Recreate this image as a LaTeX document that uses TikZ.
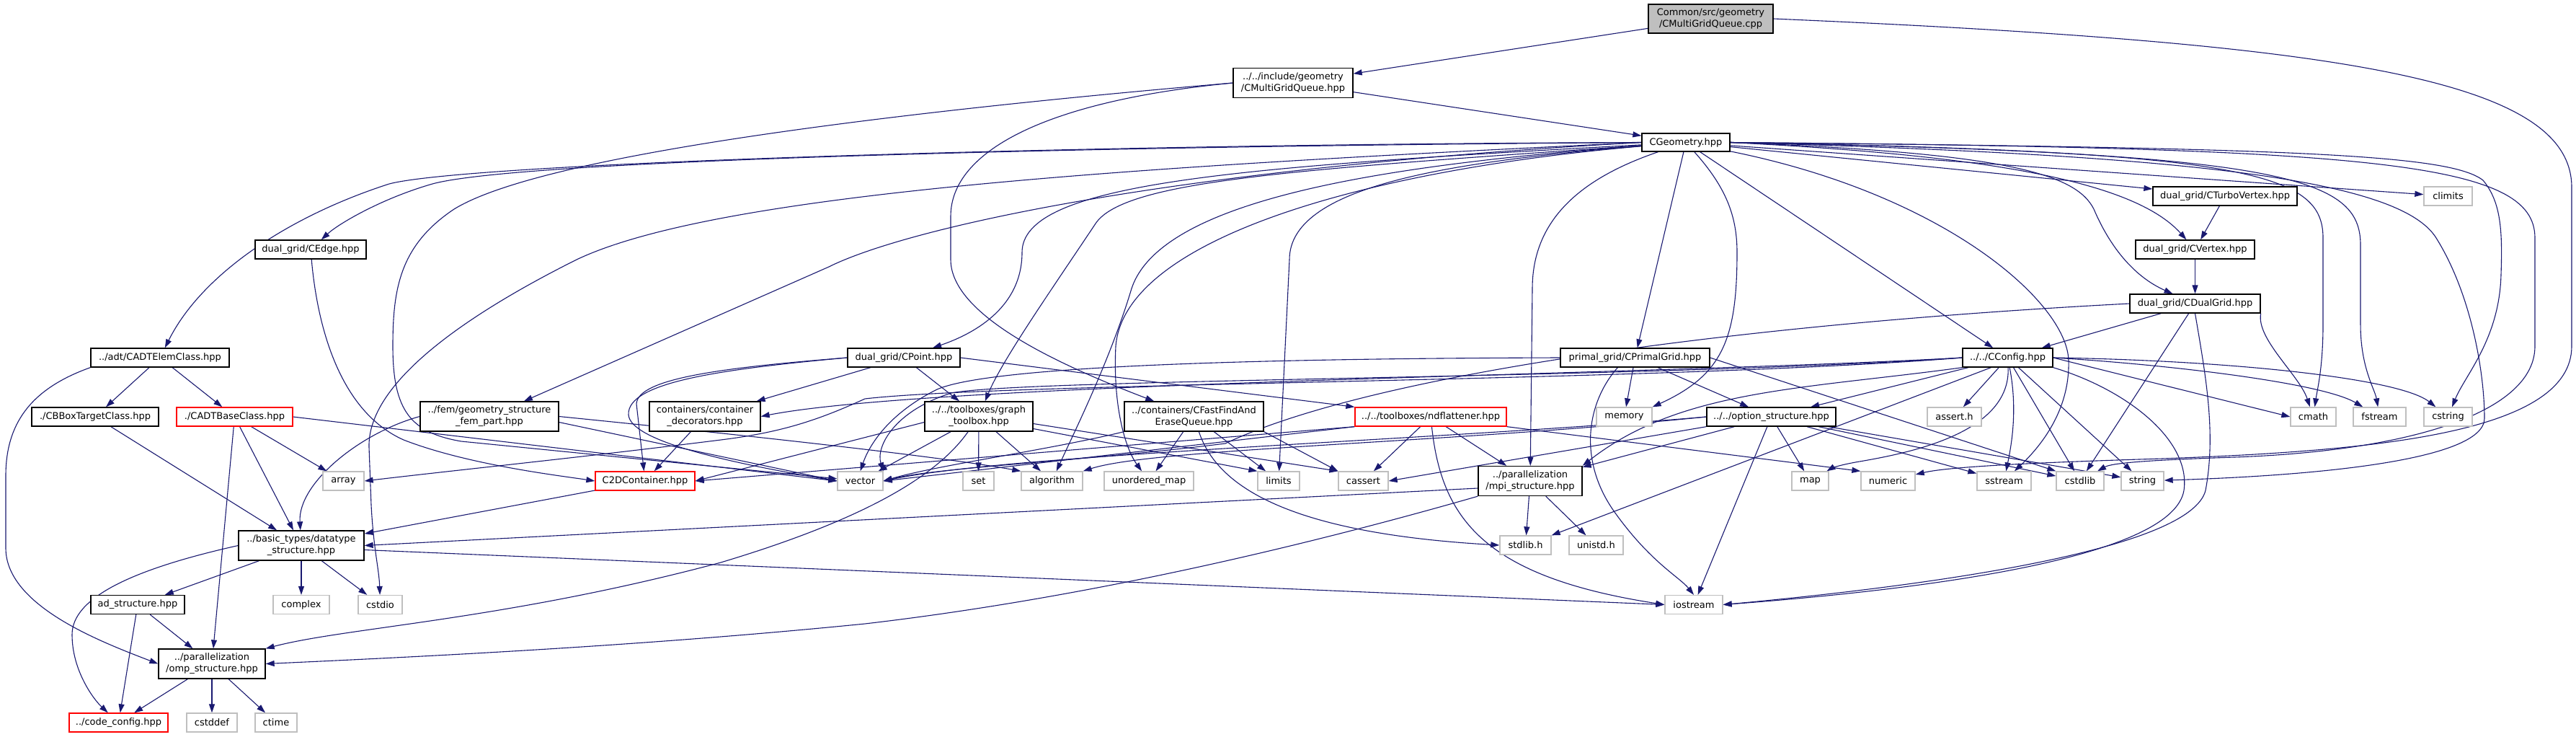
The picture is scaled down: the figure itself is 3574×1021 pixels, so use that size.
\documentclass[tikz,border=0pt]{standalone}
\usepackage{fontspec}
\setmainfont{DejaVu Sans}
\usetikzlibrary{arrows.meta}
\definecolor{edgec}{HTML}{191970}
\definecolor{sysc}{HTML}{BFBFBF}
\pgfdeclarelayer{bg}
\pgfsetlayers{bg,main}
\begin{document}
\begin{tikzpicture}[x=1pt,y=-1pt,
  every node/.style={font=\fontsize{13}{16}\selectfont, inner sep=0pt, align=center},
  nb/.style={draw=black, line width=1.3pt, fill=white, minimum height=26pt},
  ns/.style={draw=sysc, line width=1.3pt, fill=white, minimum height=26pt},
  nr/.style={draw=red, line width=1.3pt, fill=white, minimum height=26pt},
  nroot/.style={draw=black, line width=1.3pt, fill=sysc, minimum height=40pt},
  two/.style={minimum height=41pt},
  e/.style={draw=edgec, line width=1.1pt, -{Triangle[length=12pt,width=8pt]}}
]
\useasboundingbox (0,0) rectangle (3574,1021);

% ---------- nodes ----------
\node[nroot, minimum width=173pt] (cpp) at (2373.5,26) {Common/src/geometry\\/CMultiGridQueue.cpp};
\node[nb, two, minimum width=166pt] (mgq) at (1794,115) {../../include/geometry\\/CMultiGridQueue.hpp};
\node[nb, minimum width=122pt, minimum height=25pt] (geom) at (2339,197.5) {CGeometry.hpp};
\node[nb, minimum width=200pt] (turbov) at (3087,272) {dual\_grid/CTurboVertex.hpp};
\node[ns, minimum width=67pt] (climits) at (3396.5,272) {climits};
\node[nb, minimum width=154pt] (cedge) at (431,346) {dual\_grid/CEdge.hpp};
\node[nb, minimum width=165pt] (cvertex) at (3045.5,346) {dual\_grid/CVertex.hpp};
\node[nb, minimum width=181pt] (cdualgrid) at (3045.5,421) {dual\_grid/CDualGrid.hpp};
\node[nb, minimum width=192pt] (adtelem) at (222,496) {../adt/CADTElemClass.hpp};
\node[nb, minimum width=156pt] (cpoint) at (1254,496) {dual\_grid/CPoint.hpp};
\node[nb, minimum width=207pt] (cprimal) at (2268.5,496) {primal\_grid/CPrimalGrid.hpp};
\node[nb, minimum width=125pt] (cconfig) at (2785.5,496) {../../CConfig.hpp};
\node[nb, minimum width=176pt] (cbbox) at (132,578) {./CBBoxTargetClass.hpp};
\node[nr, minimum width=161pt] (cadtbase) at (325.5,578) {./CADTBaseClass.hpp};
\node[nb, two, minimum width=192pt] (femgeo) at (679,577.5) {../fem/geometry\_structure\\\_fem\_part.hpp};
\node[nb, two, minimum width=154pt] (contdec) at (978,577.5) {containers/container\\\_decorators.hpp};
\node[nb, two, minimum width=150pt] (graphtb) at (1358,577.5) {../../toolboxes/graph\\\_toolbox.hpp};
\node[nb, two, minimum width=193pt] (cffeq) at (1656.5,577.5) {../containers/CFastFindAnd\\EraseQueue.hpp};
\node[nr, minimum width=210pt] (ndflat) at (1985,578) {../../toolboxes/ndflattener.hpp};
\node[ns, minimum width=77pt] (memory) at (2253.5,578) {memory};
\node[nb, minimum width=179pt] (optstruct) at (2457.5,578) {../../option\_structure.hpp};
\node[ns, minimum width=75pt] (asserth) at (2711.5,578) {assert.h};
\node[ns, minimum width=63pt] (cmath) at (3209.5,578) {cmath};
\node[ns, minimum width=73pt] (fstream) at (3301.5,578) {fstream};
\node[ns, minimum width=67pt] (cstring) at (3396.5,578) {cstring};
\node[ns, minimum width=57pt] (array) at (476.5,667) {array};
\node[nr, minimum width=138pt] (c2d) at (895,667) {C2DContainer.hpp};
\node[ns, minimum width=63pt] (vector) at (1193.5,667) {vector};
\node[ns, minimum width=43pt] (set) at (1357.5,667) {set};
\node[ns, minimum width=85pt] (algorithm) at (1459.5,667) {algorithm};
\node[ns, minimum width=124pt] (unordmap) at (1594,667) {unordered\_map};
\node[ns, minimum width=58pt] (limits) at (1774,667) {limits};
\node[ns, minimum width=69pt] (cassert) at (1891.5,667) {cassert};
\node[nb, two, minimum width=144pt] (mpi) at (2123,667) {../parallelization\\/mpi\_structure.hpp};
\node[ns, minimum width=51pt] (map) at (2511.5,667) {map};
\node[ns, minimum width=75pt] (numeric) at (2619.5,667) {numeric};
\node[ns, minimum width=75pt] (sstream) at (2780.5,667) {sstream};
\node[ns, minimum width=66pt] (cstdlib) at (2886,667) {cstdlib};
\node[ns, minimum width=59pt] (string) at (2972.5,667) {string};
\node[nb, two, minimum width=174pt] (datatype) at (418,756.5) {../basic\_types/datatype\\\_structure.hpp};
\node[ns, minimum width=71pt] (stdlibh) at (2116.5,756) {stdlib.h};
\node[ns, minimum width=75pt] (unistdh) at (2214.5,756) {unistd.h};
\node[nb, minimum width=130pt] (adstruct) at (191,838.5) {ad\_structure.hpp};
\node[ns, minimum width=78pt] (complex) at (418,838.5) {complex};
\node[ns, minimum width=61pt] (cstdio) at (527.5,838.5) {cstdio};
\node[ns, minimum width=80pt] (iostream) at (2350,838.5) {iostream};
\node[nb, two, minimum width=148pt] (omp) at (294,920.5) {../parallelization\\/omp\_structure.hpp};
\node[nr, minimum width=137pt] (codeconfig) at (164.5,1002) {../code\_config.hpp};
\node[ns, minimum width=70pt] (cstddef) at (294,1002) {cstddef};
\node[ns, minimum width=58pt] (ctime) at (383,1002) {ctime};

% ---------- edges ----------
\begin{pgfonlayer}{bg}
% source file
\draw[e] (cpp) -- (mgq);
\draw[e] (cpp.east) .. controls (3250,60) and (3568,110) .. (3568,260) -- (3568,480) .. controls (3568,600) and (3300,625) .. (3000,636) .. controls (2800,642) and (2700,648) .. (numeric);
% CMultiGridQueue.hpp
\draw[e] (mgq) -- (geom);
\draw[e] (mgq.west) .. controls (1300,150) and (760,210) .. (630,290) .. controls (555,340) and (545,400) .. (545,480) .. controls (545,570) and (570,600) .. (640,612) -- (vector);
\draw[e] (mgq.west) .. controls (1450,140) and (1319,210) .. (1319,300) -- (1319,360) .. controls (1319,440) and (1480,510) .. (cffeq);
% CGeometry.hpp
\draw[e] (geom) -- (cprimal);
\draw[e] (geom) -- (cconfig);
\draw[e] (geom) -- (turbov);
\draw[e] (geom) -- (climits);
\draw[e] (geom.east) .. controls (2750,215) and (2960,250) .. (cvertex);
\draw[e] (geom.east) .. controls (2780,212) and (2880,240) .. (2905,290) .. controls (2935,360) and (2975,390) .. (cdualgrid);
\draw[e] (geom.east) .. controls (3120,210) and (3223,240) .. (3223,330) -- (3223,450) .. controls (3223,510) and (3215,540) .. (cmath);
\draw[e] (geom.east) .. controls (3170,212) and (3275,245) .. (3275,340) -- (3275,450) .. controls (3275,510) and (3295,540) .. (fstream);
\draw[e] (geom.east) .. controls (3200,205) and (3400,215) .. (3445,250) .. controls (3470,280) and (3472,320) .. (3470,380) .. controls (3468,470) and (3420,520) .. (cstring);
\draw[e] (geom.east) .. controls (3050,215) and (3330,250) .. (3380,330) .. controls (3430,410) and (3447,520) .. (3447,580) .. controls (3447,640) and (3200,660) .. (string);
\draw[e] (geom.east) .. controls (3300,205) and (3517,225) .. (3517,330) -- (3517,480) .. controls (3517,570) and (3350,625) .. (3100,634) .. controls (2980,638) and (2930,642) .. (cstdlib);
\draw[e] (geom) .. controls (2700,270) and (2868,420) .. (2870,500) .. controls (2872,570) and (2830,620) .. (sstream);
\draw[e] (geom) .. controls (2395,260) and (2410,300) .. (2410,350) .. controls (2410,470) and (2390,520) .. (memory.north east);
\draw[e] (geom) .. controls (2200,245) and (2126,300) .. (2126,400) -- (mpi);
\draw[e] (geom) .. controls (2000,225) and (1789,260) .. (1789,360) -- (limits);
\draw[e] (geom) .. controls (1900,235) and (1560,330) .. (1548,480) .. controls (1544,560) and (1560,620) .. (unordmap);
\draw[e] (geom) .. controls (1900,230) and (1610,280) .. (1570,400) .. controls (1540,500) and (1490,600) .. (algorithm);
\draw[e] (geom) .. controls (1800,235) and (1560,250) .. (1520,310) .. controls (1460,400) and (1390,500) .. (graphtb);
\draw[e] (geom) .. controls (1700,232) and (1418,255) .. (1418,350) .. controls (1418,430) and (1345,465) .. (cpoint);
\draw[e] (geom.west) .. controls (1600,235) and (1250,320) .. (1150,370) -- (femgeo);
\draw[e] (geom.west) .. controls (1600,230) and (1000,265) .. (800,360) .. controls (620,450) and (510,540) .. (512,620) -- (515,700) .. controls (518,760) and (526,790) .. (cstdio);
\draw[e] (geom.west) .. controls (1500,203) and (720,222) .. (600,255) .. controls (530,275) and (470,310) .. (cedge);
\draw[e] (geom.west) .. controls (1500,200) and (650,226) .. (540,255) .. controls (400,300) and (280,380) .. (adtelem);
% dual grid chain
\draw[e] (turbov) -- (cvertex);
\draw[e] (cvertex) -- (cdualgrid);
\draw[e] (cdualgrid) -- (cconfig);
\draw[e] (cdualgrid) -- (cstdlib);
\draw[e] (cdualgrid.south east) .. controls (3130,470) and (3190,520) .. (cmath);
\draw[e] (cdualgrid.south) .. controls (3060,520) and (3075,600) .. (3060,680) .. controls (3040,760) and (2700,810) .. (iostream.east);
\draw[e] (cdualgrid.west) .. controls (2400,450) and (1900,520) .. (1700,615) .. controls (1500,640) and (1300,648) .. (vector.east);
% CEdge
\draw[e] (cedge) .. controls (440,450) and (470,570) .. (560,610) .. controls (650,645) and (780,660) .. (c2d.west);
% ADT
\draw[e] (adtelem) -- (cbbox);
\draw[e] (adtelem) -- (cadtbase);
\draw[e] (adtelem.south west) .. controls (40,540) and (8,590) .. (8,660) -- (8,760) .. controls (8,840) and (140,890) .. (omp.west);
\draw[e] (cbbox) -- (datatype);
\draw[e] (cadtbase) -- (datatype);
\draw[e] (cadtbase) -- (array);
\draw[e] (cadtbase.east) -- (vector.west);
\draw[e] (cadtbase) -- (omp);
% fem
\draw[e] (femgeo.west) .. controls (500,600) and (413,670) .. (datatype);
\draw[e] ([yshift=-8pt]femgeo.east) -- (vector.west);
\draw[e] (femgeo.east) .. controls (1000,600) and (1300,632) .. (algorithm.north west);
% containers
\draw[e] (contdec) -- (c2d);
\draw[e] (c2d) -- (datatype);
% CPoint
\draw[e] (cpoint) -- (contdec);
\draw[e] (cpoint) -- (graphtb);
\draw[e] (cpoint.east) -- (ndflat.north west);
\draw[e] (cpoint.west) .. controls (1000,510) and (885,525) .. (883,560) -- (c2d);
\draw[e] (cpoint.west) .. controls (1000,512) and (870,530) .. (872,575) .. controls (874,610) and (1000,640) .. (vector.west);
% graph toolbox
\draw[e] (graphtb) -- (vector);
\draw[e] (graphtb) -- (set);
\draw[e] (graphtb) -- (algorithm);
\draw[e] ([yshift=-8pt]graphtb.west) -- (c2d.east);
\draw[e] ([yshift=-17pt]graphtb.east) -- (limits.north west);
\draw[e] ([yshift=-10pt]graphtb.east) -- (cassert.north west);
\draw[e] (graphtb) .. controls (1300,660) and (1200,720) .. (1000,780) .. controls (700,860) and (480,870) .. (omp.north east);
% CFastFindAndEraseQueue
\draw[e] (cffeq) -- (unordmap);
\draw[e] (cffeq) -- (limits);
\draw[e] (cffeq.south east) -- (cassert.north west);
\draw[e] (cffeq) .. controls (1690,680) and (1800,740) .. (stdlibh.west);
\draw[e] (cffeq.south west) .. controls (1450,625) and (1300,645) .. (vector.east);
% ndflattener
\draw[e] (ndflat) -- (cassert);
\draw[e] (ndflat) -- (mpi);
\draw[e] (ndflat) .. controls (2000,720) and (2060,800) .. (iostream.west);
\draw[e] (ndflat.south west) -- (vector.east);
\draw[e] (ndflat.south west) -- (c2d.east);
\draw[e] (ndflat.south east) -- (numeric.north west);
% CPrimalGrid
\draw[e] (cprimal) -- (memory);
\draw[e] (cprimal) -- (optstruct);
\draw[e] (cprimal.east) -- (cstdlib.north west);
\draw[e] ([xshift=80pt]cprimal.south west) .. controls (2200,560) and (2190,640) .. (2240,710) .. controls (2290,780) and (2330,800) .. (iostream.north);
\draw[e] (cprimal.west) .. controls (1800,497) and (1380,505) .. (1300,540) .. controls (1230,575) and (1205,620) .. (vector.north);
% CConfig
\draw[e] (cconfig) -- (optstruct);
\draw[e] (cconfig) -- (asserth);
\draw[e] (cconfig) -- (cstdlib);
\draw[e] (cconfig) -- (string);
\draw[e] (cconfig.east) -- (cmath.west);
\draw[e] (cconfig.east) .. controls (3000,505) and (3220,530) .. (fstream);
\draw[e] (cconfig.east) .. controls (3100,500) and (3330,525) .. (cstring);
\draw[e] (cconfig) .. controls (2800,570) and (2790,620) .. (sstream);
\draw[e] (cconfig) .. controls (2790,600) and (2650,628) .. (2580,640) .. controls (2550,645) and (2540,650) .. (map);
\draw[e] (cconfig.south west) .. controls (2500,540) and (2330,540) .. (mpi.north east);
\draw[e] ([xshift=40pt]cconfig.south west) -- (stdlibh.north east);
\draw[e] (cconfig.south east) .. controls (2950,540) and (3040,610) .. (3030,680) .. controls (3015,770) and (2700,815) .. (iostream.east);
\draw[e] (cconfig.west) .. controls (2300,525) and (1420,525) .. (1320,545) .. controls (1240,570) and (1215,620) .. (vector.north east);
\draw[e] (cconfig.west) .. controls (2300,520) and (1300,530) .. (contdec.east);
\draw[e] (cconfig.west) .. controls (2300,530) and (1400,530) .. (1200,553) .. controls (1130,585) and (1080,600) .. (1000,610) .. controls (800,635) and (650,650) .. (array.east);
% option_structure
\draw[e] (optstruct) -- (mpi);
\draw[e] (optstruct.south west) -- (cassert.east);
\draw[e] (optstruct) -- (map);
\draw[e] (optstruct) -- (sstream);
\draw[e] (optstruct) -- (cstdlib);
\draw[e] (optstruct) -- (string);
\draw[e] (optstruct) -- (iostream);
\draw[e] (optstruct.west) .. controls (2000,610) and (1400,630) .. (vector.east);
\draw[e] (optstruct.west) .. controls (2000,615) and (1600,622) .. (algorithm.north east);
% mpi
\draw[e] ([yshift=-10pt]mpi.west) -- (datatype.east);
\draw[e] (mpi.south west) .. controls (1800,760) and (1500,830) .. (1200,865) .. controls (900,895) and (600,910) .. (omp.east);
\draw[e] (mpi) -- (stdlibh);
\draw[e] (mpi) -- (unistdh);
% datatype
\draw[e] ([yshift=-6pt]datatype.east) -- (iostream.west);
\draw[e] (datatype) -- (adstruct);
\draw[e] (datatype) -- (complex);
\draw[e] (datatype) -- (cstdio);
\draw[e] (datatype.west) .. controls (180,790) and (100,830) .. (100,880) .. controls (100,930) and (130,970) .. (codeconfig);
% ad / omp
\draw[e] (adstruct) -- (omp);
\draw[e] (adstruct) -- (codeconfig);
\draw[e] (omp) -- (codeconfig);
\draw[e] (omp) -- (cstddef);
\draw[e] (omp) -- (ctime);
\end{pgfonlayer}
\end{tikzpicture}
\end{document}
